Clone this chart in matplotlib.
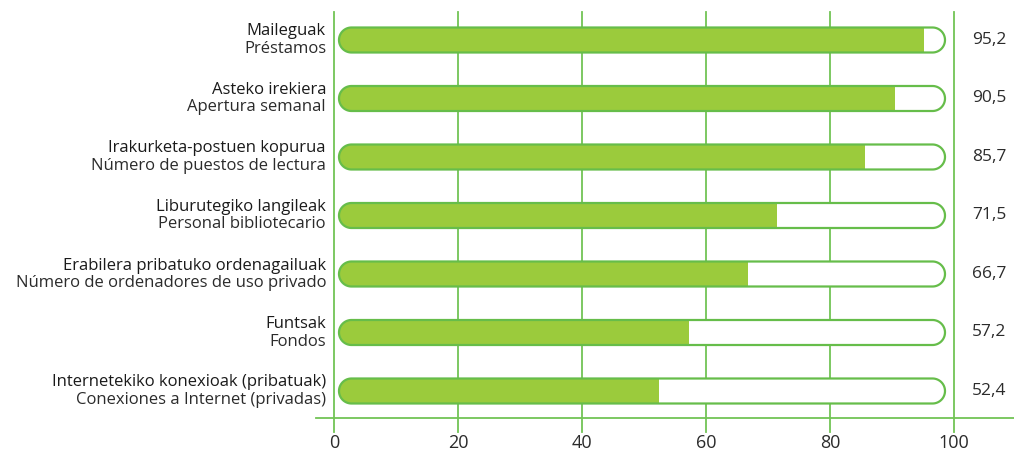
import matplotlib
matplotlib.use("Agg")
import numpy as np
import matplotlib.pyplot as plt
from matplotlib.patches import Polygon, Rectangle

labels_eu = ["Maileguak", "Asteko irekiera", "Irakurketa-postuen kopurua",
             "Liburutegiko langileak", "Erabilera pribatuko ordenagailuak",
             "Funtsak", "Internetekiko konexioak (pribatuak)"]
labels_es = ["Préstamos", "Apertura semanal", "Número de puestos de lectura",
             "Personal bibliotecario", "Número de ordenadores de uso privado",
             "Fondos", "Conexiones a Internet (privadas)"]
values = [95.2, 90.5, 85.7, 71.5, 66.7, 57.2, 52.4]
value_labels = ["95,2", "90,5", "85,7", "71,5", "66,7", "57,2", "52,4"]
xticks = [0, 20, 40, 60, 80, 100]

W, H = 1014, 455
fig = plt.figure(figsize=(W / 100, H / 100), dpi=100)
plt.rcParams['font.family'] = ['Open Sans', 'DejaVu Sans']

left_px, right_px, top_px, bot_px = 334, 954, 12, 418
ax = fig.add_axes([left_px / W, 1 - bot_px / H, (right_px - left_px) / W, (bot_px - top_px) / H])
row0, rowstep = 40, 58.5
ylo = (bot_px - row0) / rowstep
yhi = (top_px - row0) / rowstep
ax.set_xlim(0, 100)
ax.set_ylim(ylo, yhi)
ax.axis('off')

xpx = (right_px - left_px) / 100.0
grid_col = '#72c455'
outline_col = '#66bd4a'
fill_col = '#9bcb3c'
txt_col = '#2b2b2b'

ext = 14 / rowstep
for t in xticks:
    ax.plot([t, t], [yhi, ylo + ext], color=grid_col, lw=1.3, clip_on=False, zorder=1)
    ax.text(t, ylo + 25 / rowstep, str(t), ha='center', va='center', fontsize=13,
            color=txt_col, clip_on=False)
ax.plot([(316 - left_px) / xpx, (W - left_px) / xpx], [ylo, ylo], color=grid_col, lw=1.3,
        clip_on=False, zorder=1)

bh = 25 / rowstep
x0 = (339 - left_px) / xpx
x1 = (945 - left_px) / xpx
rx = 12.5 / xpx
ry = bh / 2

def capsule(i, **kw):
    th_r = np.linspace(-np.pi / 2, np.pi / 2, 40)
    th_l = np.linspace(np.pi / 2, 3 * np.pi / 2, 40)
    xr = (x1 - rx) + rx * np.cos(th_r)
    yr = i + ry * np.sin(th_r)
    xl = (x0 + rx) + rx * np.cos(th_l)
    yl = i + ry * np.sin(th_l)
    pts = np.column_stack([np.concatenate([xr, xl]), np.concatenate([yr, yl])])
    return Polygon(pts, closed=True, **kw)

for i, v in enumerate(values):
    ax.add_patch(capsule(i, facecolor='white', edgecolor='none', zorder=2))
    fp = capsule(i, facecolor=fill_col, edgecolor='none', zorder=3)
    ax.add_patch(fp)
    clip = Rectangle((x0 - 1, i - bh), v - x0 + 1, 2 * bh, transform=ax.transData)
    fp.set_clip_path(clip)
    ax.add_patch(capsule(i, facecolor='none', edgecolor=outline_col, lw=1.6, zorder=4))
    ax.text((989 - left_px) / xpx, i, value_labels[i], ha='center', va='center',
            fontsize=12.5, color=txt_col, clip_on=False)
    lx = (326 - left_px) / xpx
    ax.text(lx, i - 8.5 / rowstep, labels_eu[i], ha='right', va='center', fontsize=12,
            color='#1a1a1a', fontweight='medium', clip_on=False)
    ax.text(lx, i + 9 / rowstep, labels_es[i], ha='right', va='center', fontsize=12,
            color=txt_col, clip_on=False)

fig.savefig("out.png", dpi=100)
